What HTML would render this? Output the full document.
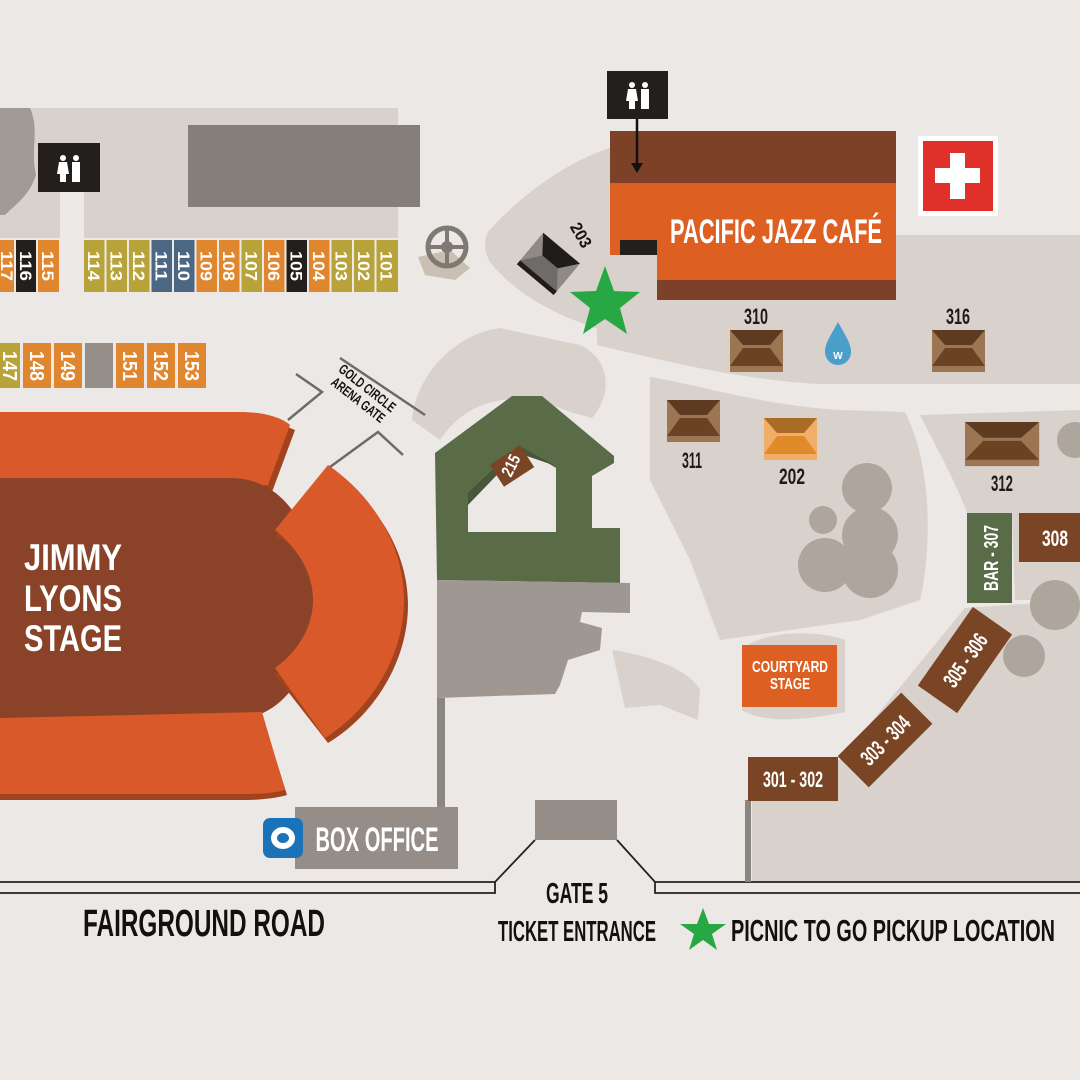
<!DOCTYPE html>
<html><head><meta charset="utf-8"><style>
html,body{margin:0;padding:0;background:#ece8e5;}
svg{display:block}
text{font-family:"Liberation Sans Narrow","Liberation Sans",sans-serif;font-weight:bold}
</style></head><body>
<svg width="1080" height="1080" viewBox="0 0 1080 1080" xmlns="http://www.w3.org/2000/svg">
<rect width="1080" height="1080" fill="#ece8e5"/>
<!-- light gray regions -->
<rect x="0" y="108" width="398" height="130" fill="#d9d2cc"/>
<rect x="60" y="192" width="24" height="48" fill="#ece8e5"/>
<path d="M0,108 L30,108 C40,130 30,150 36,175 C30,195 15,205 5,215 L0,215 Z" fill="#a29b95"/>
<rect x="188" y="125" width="232" height="82" fill="#857f79"/>
<path d="M488,232 C520,195 570,160 610,148 L610,255 L620,255 L620,335 C570,322 520,300 490,262 C484,252 484,240 488,232 Z" fill="#d9d2cc"/>
<path d="M597,235 L1080,235 L1080,384 L820,384 C740,380 660,360 597,345 Z" fill="#d9d2cc"/>
<path d="M412,420 C415,380 450,335 500,328 L580,345 C612,360 612,395 592,418 L570,412 C520,390 470,395 440,440 Z" fill="#d9d2cc"/>
<path d="M650,377 C700,385 760,405 840,410 L905,412 C935,470 930,560 920,600 L860,620 L720,640 L690,560 L650,480 Z" fill="#d9d2cc"/>
<path d="M920,415 L1080,410 L1080,600 L1015,600 L1012,513 L967,513 C955,480 935,445 920,415 Z" fill="#d9d2cc"/>
<path d="M752,760 L840,760 L965,608 L1080,600 L1080,882 L752,882 Z" fill="#d9d2cc"/>
<path d="M742,650 C760,630 820,630 845,640 L845,712 C800,722 760,722 742,710 Z" fill="#d9d2cc"/>
<path d="M612,650 C650,655 690,670 700,690 L698,720 L660,705 L625,708 Z" fill="#d9d2cc"/>
<!-- trees -->
<g fill="#aea59d">
<circle cx="867" cy="488" r="25"/><circle cx="823" cy="520" r="14"/><circle cx="870" cy="535" r="28"/>
<circle cx="825" cy="565" r="27"/><circle cx="870" cy="570" r="28"/>
<circle cx="1075" cy="440" r="18"/><circle cx="1055" cy="605" r="25"/><circle cx="1024" cy="656" r="21"/>
</g>
<!-- stalls row 1 -->
<g font-size="17" fill="#fff">
<rect x="0" y="240" width="14" height="52" fill="#e0862e"/>
<rect x="16" y="240" width="20" height="52" fill="#231f1c"/>
<rect x="38" y="240" width="21" height="52" fill="#e0862e"/>
<rect x="84" y="240" width="20.5" height="52" fill="#b8a33a"/>
<rect x="106.5" y="240" width="20.5" height="52" fill="#b8a33a"/>
<rect x="129" y="240" width="20.5" height="52" fill="#b8a33a"/>
<rect x="151.5" y="240" width="20.5" height="52" fill="#4b6784"/>
<rect x="174" y="240" width="20.5" height="52" fill="#4b6784"/>
<rect x="196.5" y="240" width="20.5" height="52" fill="#e0862e"/>
<rect x="219" y="240" width="20.5" height="52" fill="#e0862e"/>
<rect x="241.5" y="240" width="20.5" height="52" fill="#b8a33a"/>
<rect x="264" y="240" width="20.5" height="52" fill="#e0862e"/>
<rect x="286.5" y="240" width="20.5" height="52" fill="#231f1c"/>
<rect x="309" y="240" width="20.5" height="52" fill="#e0862e"/>
<rect x="331.5" y="240" width="20.5" height="52" fill="#b8a33a"/>
<rect x="354" y="240" width="20.5" height="52" fill="#b8a33a"/>
<rect x="376.5" y="240" width="21.5" height="52" fill="#b8a33a"/>
<g text-anchor="middle">
<text transform="translate(1,266) rotate(90)" textLength="30" lengthAdjust="spacingAndGlyphs">117</text>
<text transform="translate(20,266) rotate(90)" textLength="30" lengthAdjust="spacingAndGlyphs">116</text>
<text transform="translate(42,266) rotate(90)" textLength="30" lengthAdjust="spacingAndGlyphs">115</text>
<text transform="translate(88,266) rotate(90)" textLength="30" lengthAdjust="spacingAndGlyphs">114</text>
<text transform="translate(110.5,266) rotate(90)" textLength="30" lengthAdjust="spacingAndGlyphs">113</text>
<text transform="translate(133,266) rotate(90)" textLength="30" lengthAdjust="spacingAndGlyphs">112</text>
<text transform="translate(155.5,266) rotate(90)" textLength="30" lengthAdjust="spacingAndGlyphs">111</text>
<text transform="translate(178,266) rotate(90)" textLength="30" lengthAdjust="spacingAndGlyphs">110</text>
<text transform="translate(200.5,266) rotate(90)" textLength="30" lengthAdjust="spacingAndGlyphs">109</text>
<text transform="translate(223,266) rotate(90)" textLength="30" lengthAdjust="spacingAndGlyphs">108</text>
<text transform="translate(245.5,266) rotate(90)" textLength="30" lengthAdjust="spacingAndGlyphs">107</text>
<text transform="translate(268,266) rotate(90)" textLength="30" lengthAdjust="spacingAndGlyphs">106</text>
<text transform="translate(290.5,266) rotate(90)" textLength="30" lengthAdjust="spacingAndGlyphs">105</text>
<text transform="translate(313,266) rotate(90)" textLength="30" lengthAdjust="spacingAndGlyphs">104</text>
<text transform="translate(335.5,266) rotate(90)" textLength="30" lengthAdjust="spacingAndGlyphs">103</text>
<text transform="translate(358,266) rotate(90)" textLength="30" lengthAdjust="spacingAndGlyphs">102</text>
<text transform="translate(380.5,266) rotate(90)" textLength="30" lengthAdjust="spacingAndGlyphs">101</text>
</g>
<!-- row 2 -->
<rect x="0" y="343" width="20" height="45" fill="#b8a33a"/>
<rect x="23" y="343" width="28" height="45" fill="#e0862e"/>
<rect x="54" y="343" width="28" height="45" fill="#e0862e"/>
<rect x="85" y="343" width="28" height="45" fill="#968f89"/>
<rect x="116" y="343" width="28" height="45" fill="#e0862e"/>
<rect x="147" y="343" width="28" height="45" fill="#e0862e"/>
<rect x="178" y="343" width="28" height="45" fill="#e0862e"/>
<g text-anchor="middle" font-size="20">
<text transform="translate(3,366) rotate(90)" textLength="30" lengthAdjust="spacingAndGlyphs">147</text>
<text transform="translate(30,366) rotate(90)" textLength="30" lengthAdjust="spacingAndGlyphs">148</text>
<text transform="translate(61,366) rotate(90)" textLength="30" lengthAdjust="spacingAndGlyphs">149</text>
<text transform="translate(123,366) rotate(90)" textLength="30" lengthAdjust="spacingAndGlyphs">151</text>
<text transform="translate(154,366) rotate(90)" textLength="30" lengthAdjust="spacingAndGlyphs">152</text>
<text transform="translate(185,366) rotate(90)" textLength="30" lengthAdjust="spacingAndGlyphs">153</text>
</g>
</g>
<!-- restrooms -->
<g>
<rect x="38" y="143" width="62" height="49" fill="#231f1c"/>
<g fill="#fff"><circle cx="63" cy="158" r="3"/><path d="M59,162 h8 l2,12 h-3 v8 h-6 v-8 h-3z"/><circle cx="76" cy="158" r="3"/><rect x="72" y="162" width="8" height="20"/></g>
<rect x="607" y="71" width="61" height="48" fill="#231f1c"/>
<g fill="#fff"><circle cx="632" cy="85" r="3"/><path d="M628,89 h8 l2,12 h-3 v8 h-6 v-8 h-3z"/><circle cx="645" cy="85" r="3"/><rect x="641" y="89" width="8" height="20"/></g>
</g>
<!-- cafe -->
<rect x="610" y="131" width="286" height="52" fill="#7d4128"/>
<rect x="610" y="183" width="47" height="72" fill="#de5f22"/>
<rect x="620" y="240" width="37" height="15" fill="#231f1c"/>
<rect x="657" y="183" width="239" height="97" fill="#de5f22"/>
<rect x="657" y="280" width="239" height="20" fill="#7d4128"/>
<line x1="637" y1="119" x2="637" y2="165" stroke="#111" stroke-width="2.5"/>
<path d="M631,163 L643,163 L637,173 Z" fill="#111"/>
<text x="776" y="243" font-size="34" fill="#fff" text-anchor="middle" textLength="212" lengthAdjust="spacingAndGlyphs">PACIFIC JAZZ CAFÉ</text>
<!-- red cross -->
<rect x="918" y="136" width="80" height="80" fill="#fff"/>
<rect x="923" y="141" width="70" height="70" fill="#e0302a"/>
<rect x="935" y="168" width="45" height="15" fill="#fff"/>
<rect x="950" y="153" width="15" height="46" fill="#fff"/>
<!-- wheel -->
<path d="M418,257 L450,250 L470,268 L455,280 L425,275 Z" fill="#c9bfb2"/>
<circle cx="447" cy="247" r="19" fill="none" stroke="#7f7974" stroke-width="5"/>
<circle cx="447" cy="247" r="6" fill="#7f7974"/>
<path d="M447,230 V264 M430,247 H464" stroke="#7f7974" stroke-width="4"/>
<!-- 203 kiosk -->
<g transform="translate(550,262) rotate(40)">
<rect x="-24" y="-18" width="48" height="36" fill="#8f8a86"/>
<path d="M-24,-18 L24,-18 L10,0 L-10,0 Z" fill="#1f1c1a"/>
<path d="M-24,18 L24,18 L10,0 L-10,0 Z" fill="#6f6b68"/>
<rect x="-24" y="18" width="48" height="5" fill="#1f1c1a"/>
</g>
<text transform="translate(576,238) rotate(60)" font-size="17" fill="#111" text-anchor="middle" textLength="26" lengthAdjust="spacingAndGlyphs">203</text>
<!-- star -->
<polygon points="605,266 614,291 640,292 620,308 627,334 605,319 583,334 590,308 570,292 596,291" fill="#28a745"/>
<!-- kiosks -->
<g id="k">
<rect x="730" y="330" width="53" height="42" fill="#9c7553"/>
<path d="M730,330 L783,330 L770,345 L743,345 Z" fill="#5e3a20"/>
<path d="M730,366 L783,366 L770,348 L743,348 Z" fill="#6b4324"/>
<rect x="730" y="366" width="53" height="6" fill="#9c7553"/>
</g>
<use href="#k" x="202" y="0"/>
<use href="#k" x="-63" y="70"/>
<g>
<rect x="764" y="418" width="53" height="42" fill="#f0ae66"/>
<path d="M764,418 L817,418 L804,433 L777,433 Z" fill="#a86c26"/>
<path d="M764,454 L817,454 L804,436 L777,436 Z" fill="#e08a2a"/>
</g>
<g transform="translate(965,422) scale(1.4,1.05)">
<rect x="0" y="0" width="53" height="42" fill="#9c7553"/>
<path d="M0,0 L53,0 L40,15 L13,15 Z" fill="#5e3a20"/>
<path d="M0,36 L53,36 L40,18 L13,18 Z" fill="#6b4324"/>
</g>
<g font-size="22" fill="#1d1a18" text-anchor="middle">
<text x="756" y="324" textLength="24" lengthAdjust="spacingAndGlyphs">310</text>
<text x="958" y="324" textLength="24" lengthAdjust="spacingAndGlyphs">316</text>
<text x="692" y="468" textLength="20" lengthAdjust="spacingAndGlyphs">311</text>
<text x="792" y="484" textLength="26" lengthAdjust="spacingAndGlyphs">202</text>
<text x="1002" y="491" textLength="22" lengthAdjust="spacingAndGlyphs">312</text>
</g>
<!-- water -->
<path d="M838,322 C845,335 851,343 851,352 A13,13 0 0 1 825,352 C825,343 831,335 838,322 Z" fill="#4a9fca"/>
<text x="838" y="359" font-size="10" fill="#fff" text-anchor="middle">W</text>
<!-- stage -->
<path d="M0,420 L270,420 L295,430 L272,492 L0,492 Z" fill="#a0431f"/>
<path d="M0,412 L240,412 C265,412 282,418 290,425 L268,485 L0,485 Z" fill="#d9592b"/>
<path d="M0,478 L230,478 C290,478 318,540 318,600 C318,660 290,720 230,720 L0,720 Z" fill="#8a4328"/>
<path d="M0,722 L262,715 L287,795 C270,800 250,800 240,800 L0,800 Z" fill="#a0431f"/>
<path d="M0,718 L262,712 L285,790 C270,794 255,794 240,794 L0,794 Z" fill="#d9592b"/>
<path d="M330,470 C375,500 408,550 408,605 C408,660 375,715 328,743 L275,675 C300,655 316,630 316,600 C316,570 300,548 275,536 Z" fill="#a0431f"/>
<path d="M328,465 C372,495 404,545 404,600 C404,655 372,708 325,738 L275,668 C300,650 313,625 313,600 C313,575 300,550 275,530 Z" fill="#d9592b"/>
<g fill="#fff" font-size="37" text-anchor="middle">
<text x="73" y="570" textLength="98" lengthAdjust="spacingAndGlyphs">JIMMY</text>
<text x="73" y="611" textLength="98" lengthAdjust="spacingAndGlyphs">LYONS</text>
<text x="73" y="651" textLength="98" lengthAdjust="spacingAndGlyphs">STAGE</text>
</g>
<!-- gold circle gate -->
<g stroke="#6e6a66" stroke-width="2.5" fill="none">
<path d="M288,420 L322,392 L296,374"/>
<path d="M330,467 L378,432 L403,455"/>
<path d="M340,358 L425,415"/>
</g>
<g transform="translate(362,395) rotate(38)" font-size="14" fill="#111" text-anchor="middle">
<text x="0" y="-4" textLength="68" lengthAdjust="spacingAndGlyphs">GOLD CIRCLE</text>
<text x="0" y="11" textLength="64" lengthAdjust="spacingAndGlyphs">ARENA GATE</text>
</g>
<!-- green 215 -->
<path d="M435,453 L512,396 L542,396 L614,456 L614,463 L592,476 L592,528 L620,528 L620,583 L437,580 Z" fill="#5a6b47"/>
<path d="M468,492 L518,445 L556,468 L556,532 L468,532 Z" fill="#ece8e5"/>
<path d="M468,492 L518,445 L556,466 L518,453 L468,505 Z" fill="#48573a"/>
<g transform="translate(512,466) rotate(-33)"><rect x="-18" y="-13" width="36" height="26" fill="#7a4524"/><text x="0" y="0" font-size="17" fill="#fff" text-anchor="middle" dominant-baseline="middle" transform="rotate(-30)" textLength="22" lengthAdjust="spacingAndGlyphs">215</text></g>
<!-- gray building -->
<path d="M437,580 L630,583 L630,613 L582,612 L580,622 L602,628 L600,650 L568,660 L560,685 L555,694 L437,698 Z" fill="#9e9792"/>
<rect x="437" y="698" width="8" height="112" fill="#8c8680"/>
<!-- box office -->
<rect x="295" y="807" width="163" height="62" fill="#958d88"/>
<rect x="263" y="818" width="40" height="40" rx="7" fill="#1a72b8"/>
<ellipse cx="283" cy="838" rx="9" ry="8" fill="none" stroke="#fff" stroke-width="6"/>
<text x="377" y="851" font-size="34" fill="#fff" text-anchor="middle" textLength="123" lengthAdjust="spacingAndGlyphs" font-weight="normal">BOX OFFICE</text>
<!-- gate -->
<rect x="535" y="800" width="82" height="40" fill="#958d88"/>
<g stroke="#222" stroke-width="1.8" fill="none">
<path d="M0,882 L495,882 L535,840"/>
<path d="M0,893 L495,893 L495,882"/>
<path d="M617,840 L655,882 L1080,882"/>
<path d="M655,882 L655,893 L1080,893"/>
</g>
<rect x="745" y="800" width="6" height="82" fill="#8c8680"/>
<!-- courtyard etc -->
<rect x="742" y="645" width="95" height="62" fill="#de5f22"/>
<g fill="#fff" font-size="16" text-anchor="middle"><text x="790" y="672" textLength="76" lengthAdjust="spacingAndGlyphs">COURTYARD</text><text x="790" y="689" textLength="40" lengthAdjust="spacingAndGlyphs">STAGE</text></g>
<rect x="748" y="757" width="90" height="44" fill="#7a4524"/>
<text x="793" y="787" font-size="22" fill="#fff" text-anchor="middle" textLength="60" lengthAdjust="spacingAndGlyphs">301 - 302</text>
<g transform="translate(885,740) rotate(-45)"><rect x="-45" y="-22" width="90" height="44" fill="#7a4524"/><text x="0" y="8" font-size="22" fill="#fff" text-anchor="middle" textLength="60" lengthAdjust="spacingAndGlyphs">303 - 304</text></g>
<g transform="translate(965,660) rotate(-55)"><rect x="-48" y="-24" width="96" height="48" fill="#7a4524"/><text x="0" y="8" font-size="22" fill="#fff" text-anchor="middle" textLength="60" lengthAdjust="spacingAndGlyphs">305 - 306</text></g>
<rect x="967" y="513" width="45" height="90" fill="#5a6b47"/>
<text transform="translate(998,558) rotate(-90)" font-size="20" fill="#fff" text-anchor="middle" textLength="66" lengthAdjust="spacingAndGlyphs">BAR - 307</text>
<rect x="1019" y="513" width="61" height="49" fill="#7a4524"/>
<text x="1055" y="546" font-size="22" fill="#fff" text-anchor="middle" textLength="26" lengthAdjust="spacingAndGlyphs">308</text>
<!-- bottom labels -->
<text x="204" y="936" font-size="38" fill="#111" text-anchor="middle" textLength="242" lengthAdjust="spacingAndGlyphs">FAIRGROUND ROAD</text>
<text x="577" y="903" font-size="29" fill="#111" text-anchor="middle" textLength="62" lengthAdjust="spacingAndGlyphs">GATE 5</text>
<text x="577" y="941" font-size="29" fill="#111" text-anchor="middle" textLength="158" lengthAdjust="spacingAndGlyphs">TICKET ENTRANCE</text>
<polygon points="703,908 709,924 726,924 712,934 717,950 703,940 689,950 694,934 680,924 697,924" fill="#28a745"/>
<text x="731" y="941" font-size="31" fill="#111" textLength="324" lengthAdjust="spacingAndGlyphs">PICNIC TO GO PICKUP LOCATION</text>
</svg>
</body></html>
